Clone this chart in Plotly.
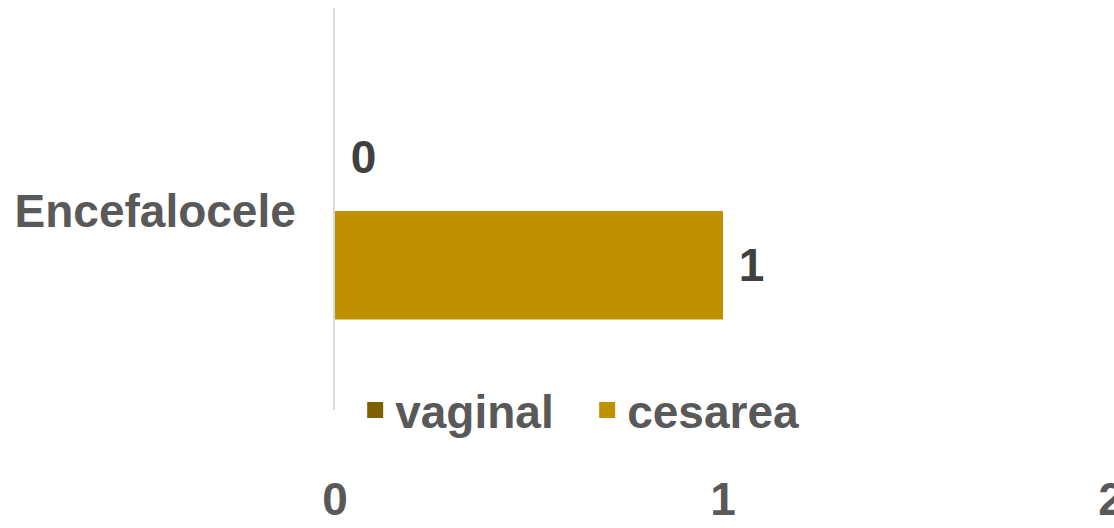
import plotly.graph_objects as go

categories = ["Encefalocele"]
vaginal = [0]
cesarea = [1]
x_ticks = [0, 1, 2]

FONT = "Liberation Sans, Arial, sans-serif"
SIZE = 46
C_VAG = "#7F6000"
C_CES = "#BF9000"

fig = go.Figure()
fig.add_trace(go.Bar(
    y=categories, x=cesarea, name="cesarea", orientation="h",
    marker=dict(color=C_CES, line=dict(width=0)), text=cesarea,
    texttemplate=" %{x}", textposition="outside",
    textfont=dict(size=SIZE, color="#404040", family=FONT, weight="bold"),
    cliponaxis=False, showlegend=False,
))
fig.add_trace(go.Bar(
    y=categories, x=vaginal, name="vaginal", orientation="h",
    marker=dict(color=C_VAG, line=dict(width=0)), text=vaginal,
    texttemplate=" %{x}", textposition="outside",
    textfont=dict(size=SIZE, color="#404040", family=FONT, weight="bold"),
    cliponaxis=False, showlegend=False,
))
# legend entries
for nm, col in [("vaginal", C_VAG), ("cesarea", C_CES)]:
    fig.add_trace(go.Scatter(
        x=[None], y=[None], mode="markers", name=nm,
        marker=dict(symbol="square", size=22, color=col),
    ))

fig.update_layout(
    width=1114, height=528,
    margin=dict(l=335, r=3, t=8, b=118),
    paper_bgcolor="white", plot_bgcolor="white",
    barmode="group", bargap=0.46, bargroupgap=0,
    font=dict(family=FONT, size=SIZE, color="#595959", weight="bold"),
    showlegend=True,
    legend=dict(orientation="h", x=0.026, xanchor="left", y=0.0, yanchor="middle",
                font=dict(size=SIZE, color="#595959", family=FONT, weight="bold"),
                bgcolor="rgba(0,0,0,0)", entrywidth=187, entrywidthmode="pixels"),
    xaxis=dict(range=[0, 2], tickvals=x_ticks, showgrid=False, zeroline=False,
               showline=False, ticks="", ticklabelstandoff=58, automargin=False,
               ticklabeloverflow="allow",
               tickfont=dict(size=SIZE, color="#595959", family=FONT, weight="bold")),
    yaxis=dict(range=[-0.495, 0.505], showline=True, linecolor="#D9D9D9", linewidth=2,
               ticks="", showgrid=False, ticklabelstandoff=28, automargin=False,
               tickfont=dict(size=SIZE, color="#595959", family=FONT, weight="bold")),
)
fig.update_traces(constraintext="none", selector=dict(type="bar"))

fig.write_html("out.html", post_script="document.body.style.margin='0';",
               config={"displayModeBar": False})
